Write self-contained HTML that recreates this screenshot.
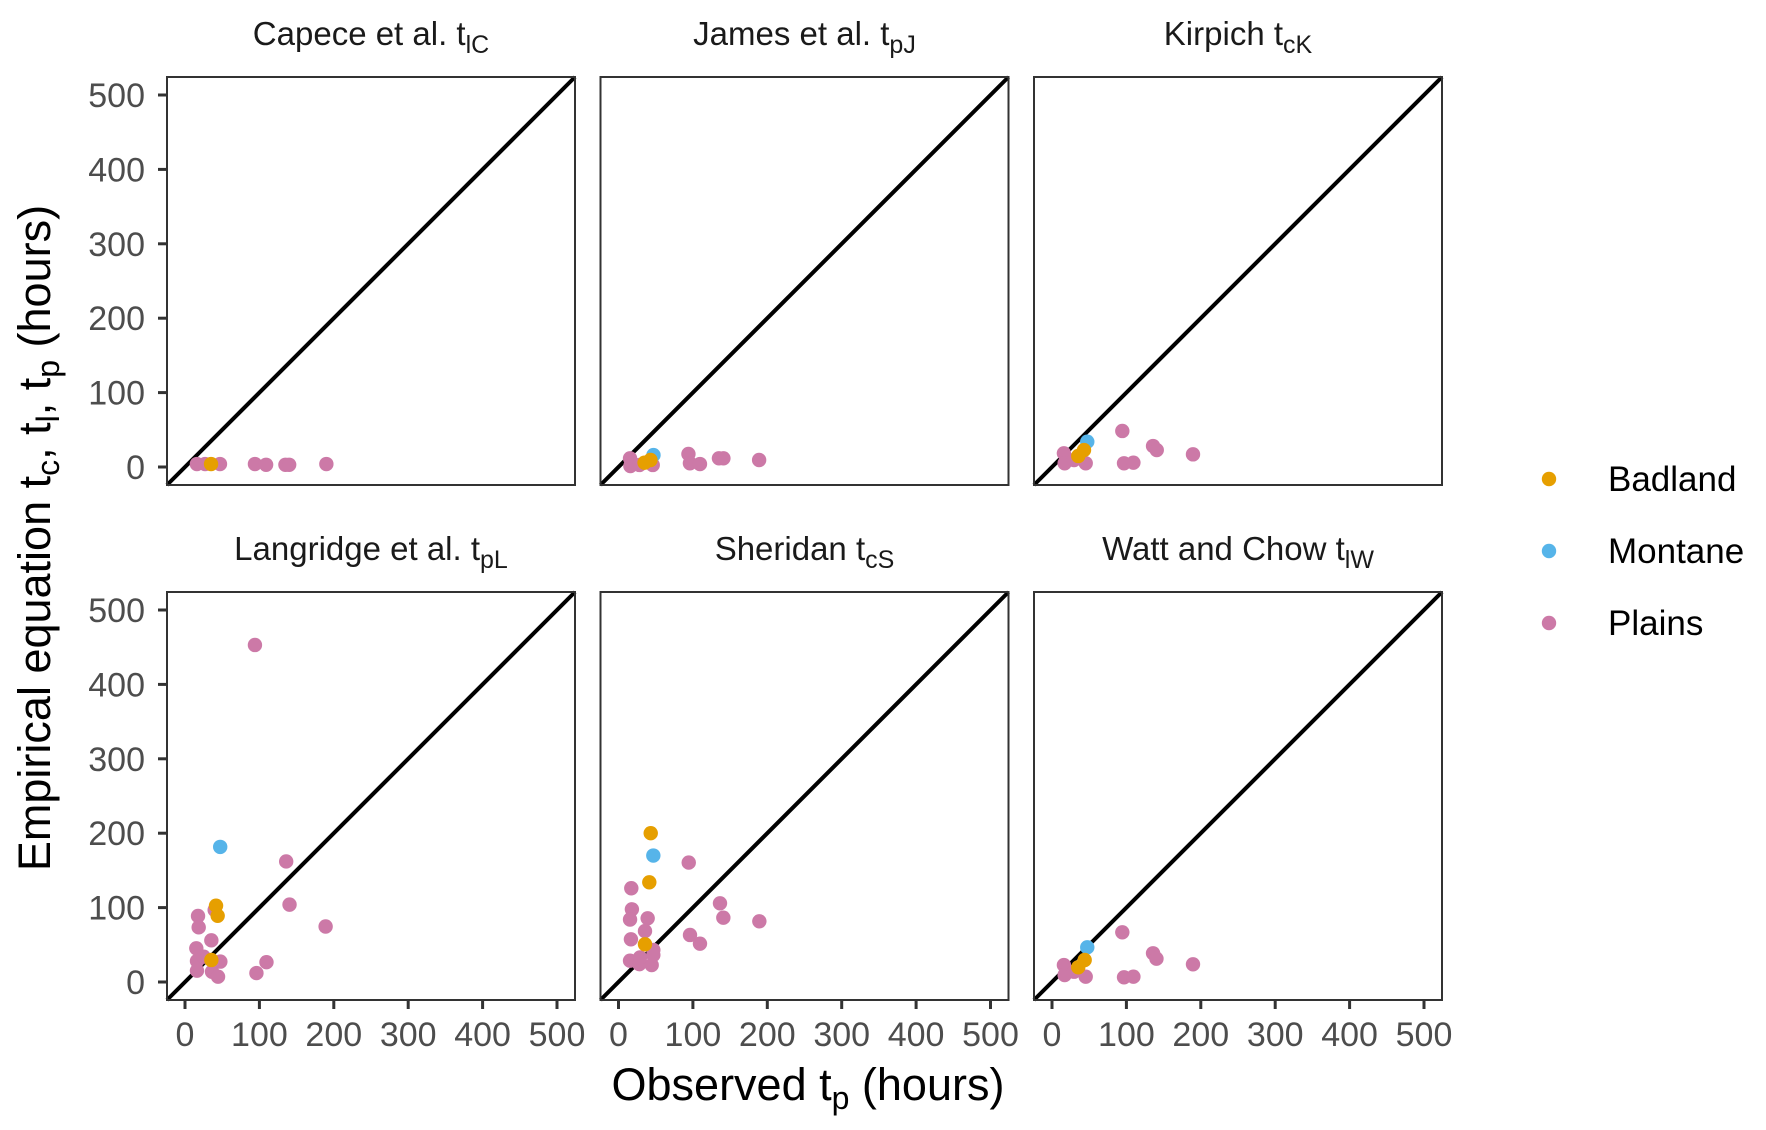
<!DOCTYPE html>
<html><head><meta charset="utf-8"><style>
html,body{margin:0;padding:0;background:#fff;}
svg{display:block;font-family:"Liberation Sans",Arial,sans-serif;}
</style></head><body>
<svg id="chart" width="1766" height="1130" viewBox="0 0 1766 1130" xmlns="http://www.w3.org/2000/svg">
<rect width="1766" height="1130" fill="#fff"/>
<g id="panels"></g>
<text transform="translate(50,538) rotate(-90)" text-anchor="middle" font-size="45" fill="#000">Empirical equation t<tspan font-size="32" dy="9">c</tspan><tspan dy="-9">, t</tspan><tspan font-size="32" dy="9">l</tspan><tspan dy="-9">, t</tspan><tspan font-size="32" dy="9">p</tspan><tspan dy="-9"> (hours)</tspan></text>
<text x="808" y="1100" text-anchor="middle" font-size="45" fill="#000">Observed t<tspan font-size="32" dy="9">p</tspan><tspan dy="-9"> (hours)</tspan></text>
<g id="legend"></g>
</svg>
<script>
const NS="http://www.w3.org/2000/svg";
const groups=["Badland","Montane","Plains"];
const colors={Badland:"#E69F00",Montane:"#56B4E9",Plains:"#CC79A7"};
const yTicks=[0,100,200,300,400,500];
const xTicks=[0,100,200,300,400,500];
const panelTitles=[["Capece et al. t","lC"],["James et al. t","pJ"],["Kirpich t","cK"],["Langridge et al. t","pL"],["Sheridan t","cS"],["Watt and Chow t","lW"]];
const capeceX=[16,27,47,94,109,135,140,190,35];
const capeceY=[4,4,4,4,3,3,3,4,4];
const capeceG=["Plains","Plains","Plains","Plains","Plains","Plains","Plains","Plains","Badland"];
const jamesX=[15.5,16,28,46,94,96,109.5,135,141,189,47,43,35];
const jamesY=[11.7,1.3,2.7,2.7,17.5,5,4,11.7,11.7,9.4,16,9.4,5.8];
const jamesG=["Plains","Plains","Plains","Plains","Plains","Plains","Plains","Plains","Plains","Plains","Montane","Badland","Badland"];
const kirpichX=[94.5,16,17,29.6,45.3,96.8,109.4,135.8,140.8,189.5,47.4,43,35.3];
const kirpichY=[48.4,18.4,5,9.4,5,5,5.8,28.2,22.8,17,34,22.8,14.8];
const kirpichG=["Plains","Plains","Plains","Plains","Plains","Plains","Plains","Plains","Plains","Plains","Montane","Badland","Badland"];
const langX=[94,136,140.5,189,109.5,96,39.9,17.5,18.4,35.4,15.2,16.1,47.5,25.1,16.1,36.3,44.4,47.3,41.7,43.9,35.4];
const langY=[453,162,104,74.6,26.6,12,96.8,88.7,73.5,56,45.3,28.2,27.4,34,15.2,13.8,7.1,181.6,102.6,89,29.6];
const langG=["Plains","Plains","Plains","Plains","Plains","Plains","Plains","Plains","Plains","Plains","Plains","Plains","Plains","Plains","Plains","Plains","Plains","Montane","Badland","Badland","Badland"];
const sherX=[94.4,17.2,18,15.5,39.2,136.4,140.9,189.3,35.6,16.7,46.8,96.1,109.5,15.5,28,44.6,46.8,28.9,46.8,43.3,41.4,35.6];
const sherY=[160.5,126,97.7,84,85.6,105.8,86.4,81.6,68.5,57.4,43,63.2,51.5,28.6,24,22.8,36.3,33,170,200,134,50.7];
const sherG=["Plains","Plains","Plains","Plains","Plains","Plains","Plains","Plains","Plains","Plains","Plains","Plains","Plains","Plains","Plains","Plains","Plains","Plains","Montane","Badland","Badland","Badland"];
const wattX=[94.5,16,17,29.6,45.3,96.8,109.4,135.8,140.4,189.5,47.4,43.9,35.3];
const wattY=[66.8,22.8,9.4,13.8,7.1,6.3,7.1,38.6,31.3,23.8,46.6,29.6,19.8];
const wattG=["Plains","Plains","Plains","Plains","Plains","Plains","Plains","Plains","Plains","Plains","Montane","Badland","Badland"];
const panelX=[capeceX,jamesX,kirpichX,langX,sherX,wattX];
const panelY=[capeceY,jamesY,kirpichY,langY,sherY,wattY];
const panelG=[capeceG,jamesG,kirpichG,langG,sherG,wattG];
const slugs=["capece","james","kirpich","langridge","sheridan","watt-chow"];

const P=408, LEFTS=[167,600.5,1034], TOPS=[77,592];
const DMIN=-24.2, DMAX=524.2;
function sx(v,left){return left+(v-DMIN)/(DMAX-DMIN)*P;}
function sy(v,top){return top+P-(v-DMIN)/(DMAX-DMIN)*P;}
function mk(tag,attrs,parent){const e=document.createElementNS(NS,tag);for(const k in attrs)e.setAttribute(k,attrs[k]);parent.appendChild(e);return e;}
const root=document.getElementById("panels");
for(let i=0;i<6;i++){
  const r=Math.floor(i/3),c=i%3,L=LEFTS[c],T=TOPS[r];
  const g=mk("g",{},root);
  
  
  const t=mk("text",{x:L+P/2,y:T-32,"text-anchor":"middle","font-size":"33",fill:"#1a1a1a"},g);
  
  
  t.textContent=panelTitles[i][0];
  const sub=mk("tspan",{"font-size":"25",dy:"8"},t);sub.textContent=panelTitles[i][1];
  const dl=mk("line",{x1:sx(DMIN,L),y1:sy(DMIN,T),x2:sx(DMAX,L),y2:sy(DMAX,T),stroke:"#000","stroke-width":"4"},g);
  
  
  const X=panelX[i],Y=panelY[i],G=panelG[i];
  for(let k=0;k<X.length;k++){
    const p=mk("circle",{cx:sx(X[k],L),cy:sy(Y[k],T),r:"7.2",fill:colors[G[k]]},g);
    
    
  }
  const b=mk("rect",{x:L,y:T,width:P,height:P,fill:"none",stroke:"#333","stroke-width":"2"},g);
  
  
  if(c===0){
    for(const v of yTicks){
      const y=sy(v,T);
      const tk=mk("line",{x1:L-9,x2:L,y1:y,y2:y,stroke:"#333","stroke-width":"3"},g);
      
      
      const lb=mk("text",{x:L-22,y:y+12,"text-anchor":"end","font-size":"34",fill:"#4d4d4d"},g);
      
      
      lb.textContent=v;
    }
  }
  if(r===1){
    for(const v of xTicks){
      const x=sx(v,L);
      const tk=mk("line",{x1:x,x2:x,y1:T+P,y2:T+P+9,stroke:"#333","stroke-width":"3"},g);
      
      
      const lb=mk("text",{x:x,y:T+P+46,"text-anchor":"middle","font-size":"34",fill:"#4d4d4d"},g);
      
      
      lb.textContent=v;
    }
  }
}
const lg=document.getElementById("legend");
const legendY=[479,551,623];
groups.forEach((gname,k)=>{
  const d=mk("circle",{cx:1549,cy:legendY[k],r:"7.2",fill:colors[gname]},lg);
  
  
  const t=mk("text",{x:1608,y:legendY[k]+12,"font-size":"35",fill:"#000"},lg);
  
  
  t.textContent=gname;
});
</script>
</body></html>
